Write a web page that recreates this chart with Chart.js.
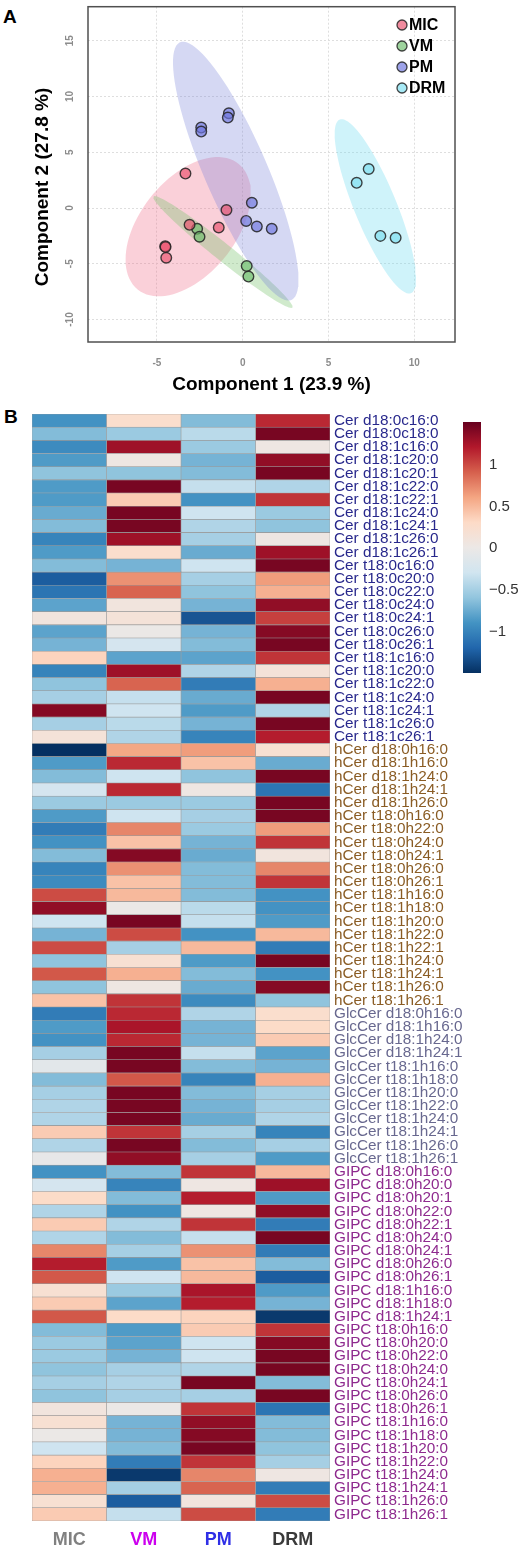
<!DOCTYPE html>
<html>
<head>
<meta charset="utf-8">
<script src="https://cdn.jsdelivr.net/npm/chart.js@4.4.1/dist/chart.umd.min.js"></script>
<style>
body { margin: 0; width: 520px; height: 1551px; background: #fff; position: relative; overflow: hidden; font-family: "Liberation Sans", Arial, sans-serif; }
canvas { position: absolute; }
.panel { position: absolute; font-weight: bold; font-size: 19px; line-height: 19px; }
</style>
</head>
<body>
<div class="panel" style="left:3px;top:7px">A</div>
<div class="panel" style="left:4px;top:407px">B</div>
<canvas id="pls" width="520" height="400" style="left:0;top:0"></canvas>
<canvas id="heat" width="520" height="1151" style="left:0;top:400px"></canvas>
<canvas id="cbar" width="65" height="285" style="left:455px;top:405px"></canvas>
<script>
// ---- panel A: sample scores ----
var groups = ['MIC', 'VM', 'PM', 'DRM'];
var micScores = [[-3.34, 3.09], [-0.95, -0.18], [-3.10, -1.51], [-1.40, -1.75], [-4.52, -3.42], [-4.50, -3.50], [-4.46, -4.46]];
var vmScores = [[-2.66, -1.87], [-2.52, -2.58], [0.23, -5.20], [0.33, -6.15]];
var pmScores = [[-2.42, 7.22], [-2.42, 6.86], [-0.81, 8.50], [-0.87, 8.11], [0.53, 0.47], [0.20, -1.16], [0.82, -1.66], [1.69, -1.87]];
var drmScores = [[6.64, 2.26], [7.34, 3.50], [8.02, -2.50], [8.91, -2.67]];
var xTicks = [-5, 0, 5, 10];
var yTicks = [-10, -5, 0, 5, 10, 15];
var yTitle = 'Component 2 (27.8 %)';

// ---- panel B: heatmap rows, columns MIC, VM, PM, DRM ----
var colNames = ['MIC', 'VM', 'PM', 'DRM'];
var cerNames = ['Cer d18:0c16:0','Cer d18:0c18:0','Cer d18:1c16:0','Cer d18:1c20:0','Cer d18:1c20:1','Cer d18:1c22:0','Cer d18:1c22:1','Cer d18:1c24:0','Cer d18:1c24:1','Cer d18:1c26:0','Cer d18:1c26:1','Cer t18:0c16:0','Cer t18:0c20:0','Cer t18:0c22:0','Cer t18:0c24:0','Cer t18:0c24:1','Cer t18:0c26:0','Cer t18:0c26:1','Cer t18:1c16:0','Cer t18:1c20:0','Cer t18:1c22:0','Cer t18:1c24:0','Cer t18:1c24:1','Cer t18:1c26:0','Cer t18:1c26:1'];
var cerValues = [
  [-0.9, 0.25, -0.65, 1.15], [-0.65, -0.55, -0.4, 1.45], [-0.95, 1.3, -0.55, 0.05], [-0.85, 0.05, -0.7, 1.35],
  [-0.6, -0.6, -0.65, 1.45], [-0.85, 1.45, -0.35, -0.45], [-0.85, 0.4, -0.9, 1.1], [-0.75, 1.45, -0.3, -0.55],
  [-0.65, 1.45, -0.45, -0.6], [-1.0, 1.3, -0.5, 0.05], [-0.85, 0.25, -0.75, 1.3], [-0.65, -0.7, -0.3, 1.45],
  [-1.25, 0.7, -0.5, 0.65], [-1.1, 0.9, -0.6, 0.55], [-0.8, 0.1, -0.7, 1.35], [0.1, 0.15, -1.3, 1.05],
  [-0.8, 0.0, -0.7, 1.4], [-0.7, -0.25, -0.65, 1.45], [0.35, -0.8, -0.8, 1.1], [-1.0, 1.3, -0.45, 0.15],
  [-0.6, 0.9, -1.05, 0.55], [-0.5, -0.35, -0.75, 1.45], [1.4, -0.3, -0.85, -0.45], [-0.5, -0.4, -0.7, 1.45],
  [0.15, -0.45, -1.0, 1.2]
];
var hCerNames = ['hCer d18:0h16:0','hCer d18:1h16:0','hCer d18:1h24:0','hCer d18:1h24:1','hCer d18:1h26:0','hCer t18:0h16:0','hCer t18:0h22:0','hCer t18:0h24:0','hCer t18:0h24:1','hCer t18:0h26:0','hCer t18:0h26:1','hCer t18:1h16:0','hCer t18:1h18:0','hCer t18:1h20:0','hCer t18:1h22:0','hCer t18:1h22:1','hCer t18:1h24:0','hCer t18:1h24:1','hCer t18:1h26:0','hCer t18:1h26:1'];
var hCerValues = [
  [-1.5, 0.6, 0.65, 0.2], [-0.85, 1.15, 0.45, -0.75], [-0.65, -0.3, -0.6, 1.45], [-0.25, 1.15, 0.05, -1.1],
  [-0.55, -0.55, -0.55, 1.45], [-0.85, -0.3, -0.5, 1.45], [-1.05, 0.75, -0.55, 0.65], [-0.9, 0.45, -0.7, 1.1],
  [-0.65, 1.4, -0.75, 0.1], [-1.0, 0.7, -0.65, 0.75], [-0.95, 0.45, -0.65, 1.1], [1.0, 0.5, -0.65, -0.9],
  [1.35, 0.0, -0.4, -0.9], [-0.3, 1.45, -0.35, -0.85], [-0.7, 1.0, -0.9, 0.5], [1.0, -0.5, 0.5, -1.05],
  [-0.6, 0.2, -0.85, 1.45], [0.95, 0.55, -0.65, -0.9], [-0.6, 0.05, -0.75, 1.4], [0.45, 1.1, -0.95, -0.6]
];
var glcNames = ['GlcCer d18:0h16:0','GlcCer d18:1h16:0','GlcCer d18:1h24:0','GlcCer d18:1h24:1','GlcCer t18:1h16:0','GlcCer t18:1h18:0','GlcCer t18:1h20:0','GlcCer t18:1h22:0','GlcCer t18:1h24:0','GlcCer t18:1h24:1','GlcCer t18:1h26:0','GlcCer t18:1h26:1'];
var glcValues = [
  [-1.05, 1.15, -0.45, 0.25], [-0.85, 1.25, -0.7, 0.3], [-0.9, 1.15, -0.7, 0.4], [-0.5, 1.45, -0.35, -0.8],
  [-0.1, 1.45, -0.65, -0.7], [-0.65, 0.95, -1.0, 0.55], [-0.5, 1.45, -0.65, -0.5], [-0.45, 1.45, -0.7, -0.5],
  [-0.45, 1.45, -0.75, -0.45], [0.4, 1.1, -0.5, -1.0], [-0.45, 1.45, -0.65, -0.5], [-0.05, 1.35, -0.5, -0.85]
];
var gipcNames = ['GIPC d18:0h16:0','GIPC d18:0h20:0','GIPC d18:0h20:1','GIPC d18:0h22:0','GIPC d18:0h22:1','GIPC d18:0h24:0','GIPC d18:0h24:1','GIPC d18:0h26:0','GIPC d18:0h26:1','GIPC d18:1h16:0','GIPC d18:1h18:0','GIPC d18:1h24:1','GIPC t18:0h16:0','GIPC t18:0h20:0','GIPC t18:0h22:0','GIPC t18:0h24:0','GIPC t18:0h24:1','GIPC t18:0h26:0','GIPC t18:0h26:1','GIPC t18:1h16:0','GIPC t18:1h18:0','GIPC t18:1h20:0','GIPC t18:1h22:0','GIPC t18:1h24:0','GIPC t18:1h24:1','GIPC t18:1h26:0','GIPC t18:1h26:1'];
var gipcValues = [
  [-0.9, -0.65, 1.1, 0.5], [-0.25, -1.0, 0.05, 1.3], [0.3, -0.65, 1.2, -0.85], [-0.45, -0.9, 0.05, 1.35],
  [0.4, -0.45, 1.1, -1.05], [-0.45, -0.65, -0.35, 1.45], [0.75, -0.5, 0.7, -1.05], [1.2, -0.85, 0.45, -0.65],
  [0.95, -0.3, 0.5, -1.25], [0.2, -0.55, 1.25, -0.85], [0.4, -0.8, 1.2, -0.7], [0.95, 0.3, 0.35, -1.45],
  [-0.65, -0.85, 0.4, 1.1], [-0.55, -0.8, -0.3, 1.4], [-0.55, -0.7, -0.3, 1.45], [-0.6, -0.5, -0.45, 1.45],
  [-0.5, -0.45, 1.45, -0.65], [-0.6, -0.5, -0.5, 1.45], [0.1, 0.0, 1.1, -1.1], [0.2, -0.7, 1.35, -0.65],
  [0.0, -0.7, 1.4, -0.65], [-0.3, -0.65, 1.45, -0.6], [0.35, -1.05, 1.1, -0.5], [0.55, -1.45, 0.75, 0.05],
  [0.55, -0.5, 0.9, -1.05], [0.2, -1.25, 0.1, 1.0], [0.4, -0.35, 1.0, -1.05]
];
var colorbarTicks = [-1, -0.5, 0, 0.5, 1];
var zMin = -1.5, zMax = 1.52;

// ---- styling ----
Chart.defaults.font.family = '"Liberation Sans", Arial, sans-serif';
Chart.defaults.animation = false;
var groupFill = ['rgba(234,84,112,0.68)', 'rgba(112,190,110,0.68)', 'rgba(112,120,222,0.68)', 'rgba(125,222,240,0.68)'];
var ellipseFill = ['rgba(238,100,130,0.30)', 'rgba(120,195,110,0.35)', 'rgba(115,125,215,0.30)', 'rgba(110,220,240,0.33)'];
var rdbu = ['#053061', '#2166AC', '#4393C3', '#92C5DE', '#D1E5F0', '#ECE8E6', '#FDDBC7', '#F4A582', '#D6604D', '#B2182B', '#67001F'];
var classColors = { Cer: '#28288C', hCer: '#8A5C24', GlcCer: '#68688F', GIPC: '#8E2A8E' };
var colColors = ['#808080', '#CC00EE', '#2F2FE6', '#3A3A3A'];

function hexToRgb(h) {
    return [parseInt(h.substr(1, 2), 16), parseInt(h.substr(3, 2), 16), parseInt(h.substr(5, 2), 16)];
}
function valueColor(v) {
    var t = Math.max(0, Math.min(1, (v - zMin) / (zMax - zMin))) * (rdbu.length - 1);
    var i = Math.min(Math.floor(t), rdbu.length - 2);
    var f = t - i;
    var a = hexToRgb(rdbu[i]), b = hexToRgb(rdbu[i + 1]);
    return 'rgb(' + a.map(function(c, k) { return Math.round(c + (b[k] - c) * f); }).join(',') + ')';
}

// 95% confidence ellipse around a group, like the original score plot
function confidenceEllipse(pts) {
    var n = pts.length, mx = 0, my = 0;
    pts.forEach(function(p) { mx += p[0]; my += p[1]; });
    mx /= n; my /= n;
    var sxx = 0, syy = 0, sxy = 0;
    pts.forEach(function(p) {
        var dx = p[0] - mx, dy = p[1] - my;
        sxx += dx * dx; syy += dy * dy; sxy += dx * dy;
    });
    sxx /= n - 1; syy /= n - 1; sxy /= n - 1;
    var tr = sxx + syy, det = sxx * syy - sxy * sxy;
    var disc = Math.sqrt(Math.max(0, tr * tr / 4 - det));
    var l1 = tr / 2 + disc, l2 = tr / 2 - disc;
    var ang = Math.atan2(l1 - sxx, sxy);
    var k = Math.sqrt(5.991);
    var a = k * Math.sqrt(l1), b = k * Math.sqrt(Math.max(l2, 0));
    var out = [];
    for (var s = 0; s <= 90; s++) {
        var t = 2 * Math.PI * s / 90;
        var u = a * Math.cos(t), w = b * Math.sin(t);
        out.push({ x: mx + u * Math.cos(ang) - w * Math.sin(ang), y: my + u * Math.sin(ang) + w * Math.cos(ang) });
    }
    return out;
}

var scoreSets = [micScores, vmScores, pmScores, drmScores];
var plsDatasets = [];
scoreSets.forEach(function(pts, g) {
    plsDatasets.push({
        type: 'line', label: groups[g] + ' ellipse', data: confidenceEllipse(pts),
        showLine: true, fill: 'shape', backgroundColor: ellipseFill[g], borderWidth: 0,
        pointRadius: 0, tension: 0, order: 10 - g
    });
});
scoreSets.forEach(function(pts, g) {
    plsDatasets.push({
        type: 'scatter', label: groups[g], data: pts.map(function(p) { return { x: p[0], y: p[1] }; }),
        backgroundColor: groupFill[g], borderColor: 'rgba(35,35,35,0.85)', borderWidth: 1.4,
        pointRadius: 5.3, order: 1
    });
});

var plsDecor = {
    id: 'plsDecor',
    afterDraw: function(chart) {
        var ctx = chart.ctx, a = chart.chartArea, ys = chart.scales.y;
        ctx.save();
        ctx.strokeStyle = '#505050';
        ctx.lineWidth = 1.5;
        ctx.strokeRect(a.left, a.top, a.right - a.left, a.bottom - a.top);
        // rotated y tick labels
        ctx.font = 'bold 10px "Liberation Sans", Arial';
        ctx.fillStyle = '#8c8c8c';
        ctx.textAlign = 'center';
        ctx.textBaseline = 'middle';
        yTicks.forEach(function(v) {
            ctx.save();
            ctx.translate(a.left - 18, ys.getPixelForValue(v));
            ctx.rotate(-Math.PI / 2);
            ctx.fillText(String(v), 0, 0);
            ctx.restore();
        });
        // y axis title, sits a little below the plot centre in the original
        ctx.save();
        ctx.font = 'bold 19px "Liberation Sans", Arial';
        ctx.fillStyle = '#000';
        ctx.translate(43, 187);
        ctx.rotate(-Math.PI / 2);
        ctx.fillText(yTitle, 0, 0);
        ctx.restore();
        // legend
        ctx.textAlign = 'left';
        ctx.font = 'bold 16px "Liberation Sans", Arial';
        groups.forEach(function(name, g) {
            var y = 25 + g * 21;
            ctx.beginPath();
            ctx.arc(402, y, 5, 0, 2 * Math.PI);
            ctx.fillStyle = groupFill[g];
            ctx.fill();
            ctx.strokeStyle = 'rgba(35,35,35,0.85)';
            ctx.lineWidth = 1.3;
            ctx.stroke();
            ctx.fillStyle = '#000';
            ctx.fillText(name, 409, y + 1);
        });
        ctx.restore();
    }
};

new Chart(document.getElementById('pls'), {
    type: 'scatter',
    data: { datasets: plsDatasets },
    plugins: [plsDecor],
    options: {
        responsive: false,
        devicePixelRatio: 1,
        layout: { padding: { left: 0, top: 5, right: 65, bottom: 0 } },
        plugins: { legend: { display: false }, tooltip: { enabled: false } },
        scales: {
            x: {
                type: 'linear', min: -9.02, max: 12.37,
                afterBuildTicks: function(s) { s.ticks = xTicks.map(function(v) { return { value: v }; }); },
                afterFit: function(s) { s.height = 58; },
                grid: { color: '#dedede', drawTicks: false },
                border: { display: false, dash: [2, 2] },
                ticks: { color: '#8c8c8c', font: { size: 10, weight: 'bold' }, padding: 15 },
                title: { display: true, text: 'Component 1 (23.9 %)', color: '#000', font: { size: 19, weight: 'bold' }, padding: { top: 0, bottom: 4 } }
            },
            y: {
                type: 'linear', min: -12.02, max: 18.06,
                afterBuildTicks: function(s) { s.ticks = yTicks.map(function(v) { return { value: v }; }); },
                afterFit: function(s) { s.width = 88; },
                grid: { color: '#dedede', drawTicks: false },
                border: { display: false, dash: [2, 2] },
                ticks: { display: false }
            }
        }
    }
});

// ---- heatmap ----
var rowNames = [], rowValues = [], rowColors = [];
[[cerNames, cerValues, 'Cer'], [hCerNames, hCerValues, 'hCer'], [glcNames, glcValues, 'GlcCer'], [gipcNames, gipcValues, 'GIPC']].forEach(function(c) {
    c[0].forEach(function(name, i) {
        rowNames.push(name);
        rowValues.push(c[1][i]);
        rowColors.push(classColors[c[2]]);
    });
});

var heatDatasets = colNames.map(function(col, j) {
    return {
        label: col,
        data: rowValues.map(function() { return [j, j + 1]; }),
        backgroundColor: rowValues.map(function(r) { return valueColor(r[j]); }),
        borderColor: '#9a9a9a',
        borderWidth: 0.6,
        borderSkipped: false,
        grouped: false,
        barPercentage: 1,
        categoryPercentage: 1
    };
});

new Chart(document.getElementById('heat'), {
    type: 'bar',
    data: { labels: rowNames, datasets: heatDatasets },
    options: {
        indexAxis: 'y',
        responsive: false,
        devicePixelRatio: 1,
        layout: { padding: { left: 32, top: 14, right: 0, bottom: 0 } },
        plugins: { legend: { display: false }, tooltip: { enabled: false } },
        scales: {
            y: {
                type: 'category', position: 'right',
                afterFit: function(s) { s.width = 190; },
                grid: { display: false, drawTicks: false },
                border: { display: false },
                ticks: {
                    autoSkip: false, padding: 4,
                    font: { size: 15.3 },
                    color: function(c) { return rowColors[c.index]; }
                }
            },
            x: {
                type: 'linear', min: 0, max: 4,
                afterBuildTicks: function(s) { s.ticks = colNames.map(function(n, i) { return { value: i + 0.5 }; }); },
                afterFit: function(s) { s.height = 30; },
                grid: { display: false, drawTicks: false },
                border: { display: false },
                ticks: {
                    padding: 8,
                    font: { size: 18, weight: 'bold' },
                    color: function(c) { return colColors[c.index]; },
                    callback: function(v, i) { return colNames[i]; }
                }
            }
        }
    }
});

// ---- colour key ----
new Chart(document.getElementById('cbar'), {
    type: 'bar',
    data: {
        labels: ['key'],
        datasets: [{
            data: [[zMin, zMax]],
            barPercentage: 1, categoryPercentage: 1, borderWidth: 0,
            backgroundColor: function(c) {
                var chart = c.chart, ys = chart.scales.y;
                if (!chart.chartArea || !ys) return rdbu[5];
                var g = chart.ctx.createLinearGradient(0, ys.getPixelForValue(zMin), 0, ys.getPixelForValue(zMax));
                rdbu.forEach(function(col, i) { g.addColorStop(i / (rdbu.length - 1), col); });
                return g;
            }
        }]
    },
    options: {
        responsive: false,
        devicePixelRatio: 1,
        layout: { padding: { left: 8, top: 8, right: 0, bottom: 9 } },
        plugins: { legend: { display: false }, tooltip: { enabled: false } },
        scales: {
            x: { display: false },
            y: {
                min: zMin, max: zMax, position: 'right',
                afterBuildTicks: function(s) { s.ticks = colorbarTicks.map(function(v) { return { value: v }; }); },
                afterFit: function(s) { s.width = 39; },
                grid: { display: false, drawTicks: false },
                border: { display: false },
                ticks: {
                    padding: 8, color: '#333', font: { size: 15 },
                    callback: function(v) { return v < 0 ? '\u2212' + Math.abs(v) : String(v); }
                }
            }
        }
    }
});
</script>
</body>
</html>
